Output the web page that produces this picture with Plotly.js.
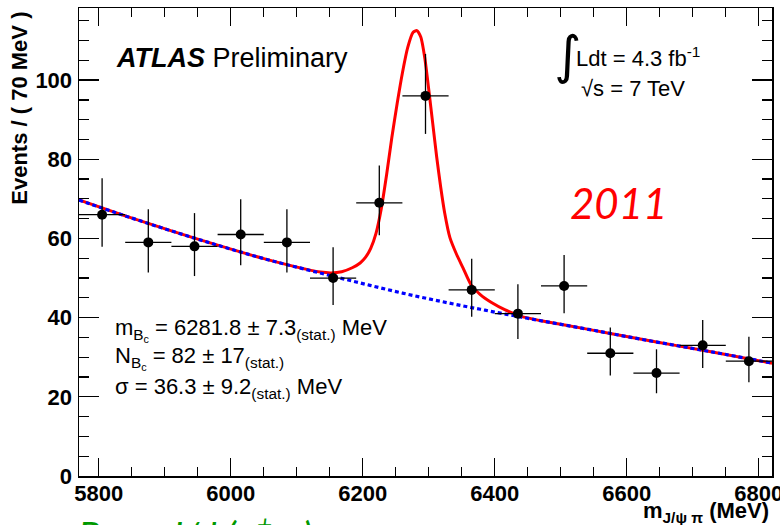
<!DOCTYPE html>
<html>
<head>
<meta charset="utf-8">
<script src="https://cdn.plot.ly/plotly-3.0.1.min.js"></script>
<style>
html,body{margin:0;padding:0;background:#fff;}
#chart{width:780px;height:525px;}
</style>
</head>
<body>
<div id="chart"></div>
<script>
// Data points (bin centres, MeV) and event counts
const binCenters = [5805, 5875, 5945, 6015, 6085, 6155, 6225, 6295, 6365, 6435, 6505, 6575, 6645, 6715, 6785];
const events     = [66, 59, 58, 61, 59, 50, 69, 96, 47, 41, 48, 31, 26, 33, 29];
const errUp      = [9.2, 8.4, 8.4, 8.9, 8.4, 7.8, 9.4, 10.6, 7.9, 7.4, 7.8, 6.5, 6.0, 6.4, 6.2];
const errDown    = [8.1, 7.6, 7.5, 7.8, 7.6, 6.8, 8.2, 9.6, 6.8, 6.4, 6.9, 5.6, 5.1, 5.7, 5.3];
const binHalfWidth = 35;

// Background fit (blue dotted)
const bkgX = [5770, 5840, 5910, 5980, 6050, 6120, 6190, 6260, 6330, 6400, 6470, 6540, 6610, 6680, 6750, 6820];
const bkgY = [69.7, 65.7, 61.9, 58.3, 54.9, 51.9, 49.0, 46.2, 43.7, 41.4, 39.2, 37.1, 34.9, 32.8, 30.7, 28.5];

// Total fit (red solid)
const fitX = [5770, 5840, 5910, 5980, 6050, 6120, 6136, 6152, 6168, 6184, 6196, 6204, 6212, 6220, 6228, 6236, 6244, 6252, 6260, 6268, 6276, 6282, 6288, 6294, 6300, 6306, 6312, 6318, 6324, 6332, 6342, 6352, 6364, 6378, 6395, 6415, 6440, 6470, 6540, 6610, 6680, 6750, 6820];
const fitY = [69.7, 65.7, 61.9, 58.3, 54.9, 52.0, 51.5, 51.3, 51.6, 52.6, 53.8, 55.2, 57.5, 61.3, 67.5, 76.0, 85.5, 94.0, 101.8, 108.2, 112.0, 112.5, 110.8, 105.5, 97.5, 89.0, 80.5, 73.0, 66.5, 60.2, 56.0, 52.5, 48.3, 45.8, 43.8, 42.0, 40.3, 39.2, 37.1, 34.9, 32.8, 30.7, 28.5];

// Axis ticks
const xTickVals = [5800, 6000, 6200, 6400, 6600, 6800];
const yTickVals = [0, 20, 40, 60, 80, 100];

const traces = [
  {
    x: fitX, y: fitY, type: 'scatter', mode: 'lines',
    line: {color: '#ff0000', width: 3, shape: 'spline', smoothing: 0.6},
    hoverinfo: 'skip', showlegend: false
  },
  {
    x: bkgX, y: bkgY, type: 'scatter', mode: 'lines',
    line: {color: '#0000ff', width: 3.2, dash: '4px,3px', shape: 'spline'},
    hoverinfo: 'skip', showlegend: false
  },
  {
    x: binCenters, y: events, type: 'scatter', mode: 'markers',
    marker: {color: '#000000', size: 10},
    error_y: {type: 'data', symmetric: false, array: errUp, arrayminus: errDown, color: '#000000', thickness: 1.3, width: 0},
    error_x: {type: 'constant', value: binHalfWidth, color: '#000000', thickness: 1.3, width: 0},
    showlegend: false
  }
];

const tickFont = {family: 'Liberation Sans, Arial, sans-serif', size: 22, weight: 'bold', color: '#000'};
const txt = 'Liberation Sans, Arial, sans-serif';

const layout = {
  width: 780, height: 525,
  margin: {l: 79, r: 8, t: 8, b: 49},
  paper_bgcolor: '#ffffff', plot_bgcolor: '#ffffff',
  showlegend: false,
  xaxis: {
    range: [5770, 6820], tickvals: xTickVals, ticktext: xTickVals.map(String),
    ticks: 'inside', ticklen: 18, tickwidth: 1.3, tickcolor: '#000',
    minor: {dtick: 50, tick0: 5800, ticks: 'inside', ticklen: 9, tickwidth: 1.3, tickcolor: '#000'},
    showline: true, linecolor: '#000', linewidth: 1.5, mirror: 'allticks',
    showgrid: false, zeroline: false, tickfont: tickFont, ticklabelstandoff: -3,
    ticklabeloverflow: 'allow'
  },
  yaxis: {
    range: [0, 118.2], tickvals: yTickVals, ticktext: yTickVals.map(String),
    ticks: 'inside', ticklen: 20, tickwidth: 1.3, tickcolor: '#000',
    minor: {dtick: 5, tick0: 0, ticks: 'inside', ticklen: 10, tickwidth: 1.3, tickcolor: '#000'},
    showline: true, linecolor: '#000', linewidth: 1.5, mirror: 'allticks',
    showgrid: false, zeroline: false, tickfont: tickFont, ticklabelstandoff: 1
  },
  annotations: [
    {xref: 'paper', yref: 'paper', x: -0.085, y: 0.785, textangle: -90,
     text: 'Events / ( 70 MeV )', showarrow: false, xanchor: 'center', yanchor: 'middle',
     font: {family: txt, size: 22, weight: 'bold', color: '#000'}},
    {xref: 'paper', yref: 'paper', x: 0.999, y: -0.076, xanchor: 'right', yanchor: 'middle',
     text: 'm<sub>J/ψ π</sub> (MeV)', showarrow: false,
     font: {family: txt, size: 22, weight: 'bold', color: '#000'}},
    {xref: 'x', yref: 'y', x: 5823, y: 105.6, xanchor: 'left', yanchor: 'middle',
     text: '<b><i>ATLAS</i></b> Preliminary', showarrow: false,
     font: {family: txt, size: 27, color: '#000'}},
    {xref: 'x', yref: 'y', x: 6486, y: 106.3, xanchor: 'left', yanchor: 'middle',
     text: '∫', showarrow: false,
     font: {family: 'DejaVu Sans, sans-serif', size: 52, color: '#000'}},
    {xref: 'x', yref: 'y', x: 6520, y: 105.8, xanchor: 'left', yanchor: 'middle',
     text: 'Ldt = 4.3 fb<sup>-1</sup>', showarrow: false,
     font: {family: txt, size: 22, color: '#000'}},
    {xref: 'x', yref: 'y', x: 6527, y: 97.8, xanchor: 'left', yanchor: 'middle',
     text: '√s = 7 TeV', showarrow: false,
     font: {family: txt, size: 22, color: '#000'}},
    {xref: 'x', yref: 'y', x: 6587, y: 69.0, xanchor: 'center', yanchor: 'middle',
     text: '<i>2011</i>', showarrow: false,
     font: {family: 'Lato, sans-serif', size: 42, color: '#ff0000'}},
    {xref: 'x', yref: 'y', x: 5821, y: 36.8, xanchor: 'left', yanchor: 'middle',
     text: 'm<sub>B<sub>c</sub></sub> = 6281.8 ± 7.3<sub>(stat.)</sub> MeV', showarrow: false,
     font: {family: txt, size: 22, color: '#000'}},
    {xref: 'x', yref: 'y', x: 5821, y: 29.7, xanchor: 'left', yanchor: 'middle',
     text: 'N<sub>B<sub>c</sub></sub> = 82 ± 17<sub>(stat.)</sub>', showarrow: false,
     font: {family: txt, size: 22, color: '#000'}},
    {xref: 'x', yref: 'y', x: 5821, y: 22.3, xanchor: 'left', yanchor: 'middle',
     text: 'σ = 36.3 ± 9.2<sub>(stat.)</sub> MeV', showarrow: false,
     font: {family: txt, size: 22, color: '#000'}},
    {xref: 'paper', yref: 'paper', x: -0.005, y: -0.128, xanchor: 'left', yanchor: 'middle',
     text: '<i>B<sub>c</sub> → J/ψ(μ<sup>+</sup>μ<sup>-</sup>)π</i>', showarrow: false,
     font: {family: 'Lato, sans-serif', size: 38, color: '#009900'}}
  ]
};

Plotly.newPlot('chart', traces, layout, {displayModeBar: false, staticPlot: true});
</script>
</body>
</html>
